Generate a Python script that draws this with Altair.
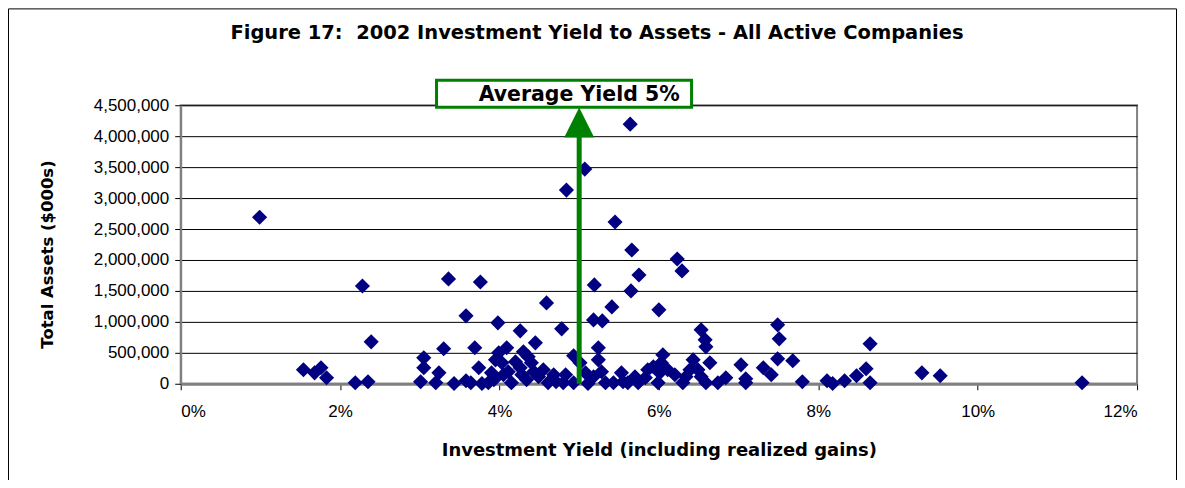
import altair as alt
import pandas as pd

# Investment yield (%) and total assets ($000s)
yield_pct = [
    0.99, 1.54, 1.68, 1.76, 1.83, 2.19, 2.28, 2.35, 2.39,
    3.01, 3.05, 3.05, 3.20, 3.24, 3.30, 3.36, 3.43, 3.58, 3.58, 3.64,
    3.69, 3.74, 3.76, 3.78, 3.86, 3.90, 3.93, 3.95, 3.98, 3.99,
    4.03, 4.05, 4.09, 4.11, 4.15, 4.20, 4.26, 4.26, 4.28, 4.30,
    4.34, 4.36, 4.40, 4.43, 4.45, 4.49, 4.55, 4.59, 4.61, 4.68,
    4.71, 4.78, 4.80, 4.83, 4.84, 4.93, 4.93, 5.01, 5.07, 5.08,
    5.11, 5.18, 5.18, 5.19, 5.24, 5.24, 5.28, 5.29, 5.33, 5.41,
    5.43, 5.45, 5.53, 5.55, 5.61, 5.64, 5.65, 5.66, 5.70, 5.74,
    5.75, 5.83, 5.86, 5.93, 5.99, 6.00, 6.01, 6.03, 6.05, 6.11,
    6.20, 6.23, 6.29, 6.30, 6.34, 6.39, 6.43, 6.49, 6.53, 6.53,
    6.58, 6.59, 6.59, 6.64, 6.74, 6.84, 7.03, 7.09, 7.09, 7.31,
    7.41, 7.49, 7.51, 7.49, 7.68, 7.80, 8.11, 8.18, 8.33, 8.48,
    8.60, 8.65, 8.65, 9.30, 9.53, 11.31,
]
total_assets = [
    2690000, 226000, 177000, 258000, 97000, 16000, 1580000, 32000, 677000,
    32000, 419000, 258000, 16000, 177000, 565000, 1694000, 5000, 1097000, 48000, 16000,
    581000, 258000, 1645000, 5000, 16000, 177000, 65000, 387000, 984000, 500000,
    339000, 145000, 581000, 194000, 16000, 355000, 258000, 855000, 145000, 516000,
    65000, 435000, 339000, 194000, 661000, 113000, 226000, 1306000, 16000, 145000,
    32000, 887000, 16000, 145000, 3129000, 452000, 16000, 339000, 3468000, 177000,
    5000, 113000, 1032000, 1597000, 581000, 387000, 194000, 1016000, 16000, 1242000,
    16000, 2613000, 177000, 32000, 16000, 4194000, 1500000, 2161000, 113000, 16000,
    1758000, 97000, 226000, 274000, 16000, 1194000, 177000, 339000, 468000, 226000,
    145000, 2016000, 1823000, 16000, 113000, 226000, 387000, 226000, 871000, 113000,
    710000, 597000, 16000, 339000, 16000, 97000, 306000, 81000, 16000, 258000,
    145000, 952000, 726000, 403000, 371000, 32000, 48000, 5000, 48000, 129000,
    242000, 645000, 16000, 177000, 129000, 16000,
]

x_ticks = [0, 2, 4, 6, 8, 10, 12]
y_ticks = [0, 500000, 1000000, 1500000, 2000000, 2500000, 3000000, 3500000, 4000000, 4500000]

avg_yield = [5.0]
arrow_top = [3990000]
arrow_head_y = [4221000]
box_x = [3.21]
box_x2 = [6.41]
box_y = [4468000]
box_y2 = [4903000]
box_label = ["Average Yield 5%"]
box_label_y = [4661000]
chart_title = ["Figure 17:\u00a0 2002 Investment Yield to Assets - All Active Companies"]

FONT = "Liberation Sans"
WIDE = "DejaVu Sans"
GREEN = "#008000"
NAVY = "#000080"

xscale = alt.Scale(domain=[0, 12], nice=False, zero=False)
yscale = alt.Scale(domain=[0, 4500000], nice=False)

xaxis = alt.Axis(
    values=x_ticks, labelExpr="datum.value + '%'", grid=False,
    title="Investment Yield (including realized gains)",
    domainColor="#808080", domainWidth=3, tickColor="#000000", tickSize=6,
    labelPadding=14, titlePadding=22, titleFontSize=18,
)
yaxis = alt.Axis(
    values=y_ticks, labelExpr="format(datum.value, ',')", grid=True,
    gridColor="#000000", gridWidth=1,
    title="Total Assets ($000s)",
    domainColor="#808080", domainWidth=2, tickColor="#000000", tickSize=6,
    labelPadding=6, titlePadding=38, titleY=149, titleFontSize=16.5,
)

pts = pd.DataFrame({"yield": yield_pct, "assets": total_assets})
points = alt.Chart(pts).mark_point(
    shape="diamond", filled=True, size=230, color=NAVY, opacity=1
).encode(
    x=alt.X("yield:Q", scale=xscale, axis=xaxis),
    y=alt.Y("assets:Q", scale=yscale, axis=yaxis),
)

arrow_df = pd.DataFrame({"yield": avg_yield, "assets": [0], "y1": arrow_top, "yh": arrow_head_y})
shaft = alt.Chart(arrow_df).mark_rule(color=GREEN, strokeWidth=5).encode(
    x=alt.X("yield:Q", scale=xscale, axis=xaxis),
    y=alt.Y("assets:Q", scale=yscale, axis=yaxis), y2="y1:Q"
)
head = alt.Chart(arrow_df).mark_point(
    shape="M-1,1L1,1L0,-1Z", filled=True, size=900, color=GREEN, opacity=1
).encode(x=alt.X("yield:Q", scale=xscale, axis=xaxis),
         y=alt.Y("yh:Q", scale=yscale, axis=yaxis))

box_df = pd.DataFrame({"x": box_x, "x2": box_x2, "y": box_y, "y2": box_y2,
                       "label": box_label, "lx": avg_yield, "ly": box_label_y})
box = alt.Chart(box_df).mark_rect(
    fill="white", stroke=GREEN, strokeWidth=3, clip=False
).encode(x=alt.X("x:Q", scale=xscale, axis=xaxis), x2="x2:Q",
         y=alt.Y("y:Q", scale=yscale, axis=yaxis), y2="y2:Q")
box_text = alt.Chart(box_df).mark_text(
    font=WIDE, fontSize=20.5, fontWeight="bold", color="#000000", clip=False
).encode(x=alt.X("lx:Q", scale=xscale, axis=xaxis), y=alt.Y("ly:Q", scale=yscale, axis=yaxis),
         text="label:N")

frame = alt.Chart(box_df).mark_rect(fill=None, stroke="#000000", strokeWidth=1, clip=False).encode(
    x=alt.value(-172.5), x2=alt.value(997.5), y=alt.value(-96.5), y2=alt.value(500)
)

title_df = pd.DataFrame({"t": chart_title})
title = alt.Chart(title_df).mark_text(
    font=WIDE, fontSize=19.5, fontWeight="bold", color="#000000", align="center", baseline="middle"
).encode(x=alt.value(417), y=alt.value(-72), text="t:N")

chart = alt.layer(points, shaft, head, box, box_text, frame, title).properties(
    width=958, height=279,
    autosize=alt.AutoSizeParams(type="none"),
    padding={"left": 173, "top": 97, "right": 40, "bottom": 96},
).configure_view(
    stroke="#808080", strokeWidth=2
).configure_axis(
    labelFont=FONT, labelFontSize=17, labelColor="#000000",
    titleFont=WIDE, titleFontWeight="bold", titleColor="#000000",
)

chart.save("out.html", embed_options={"renderer": "svg", "actions": False})
